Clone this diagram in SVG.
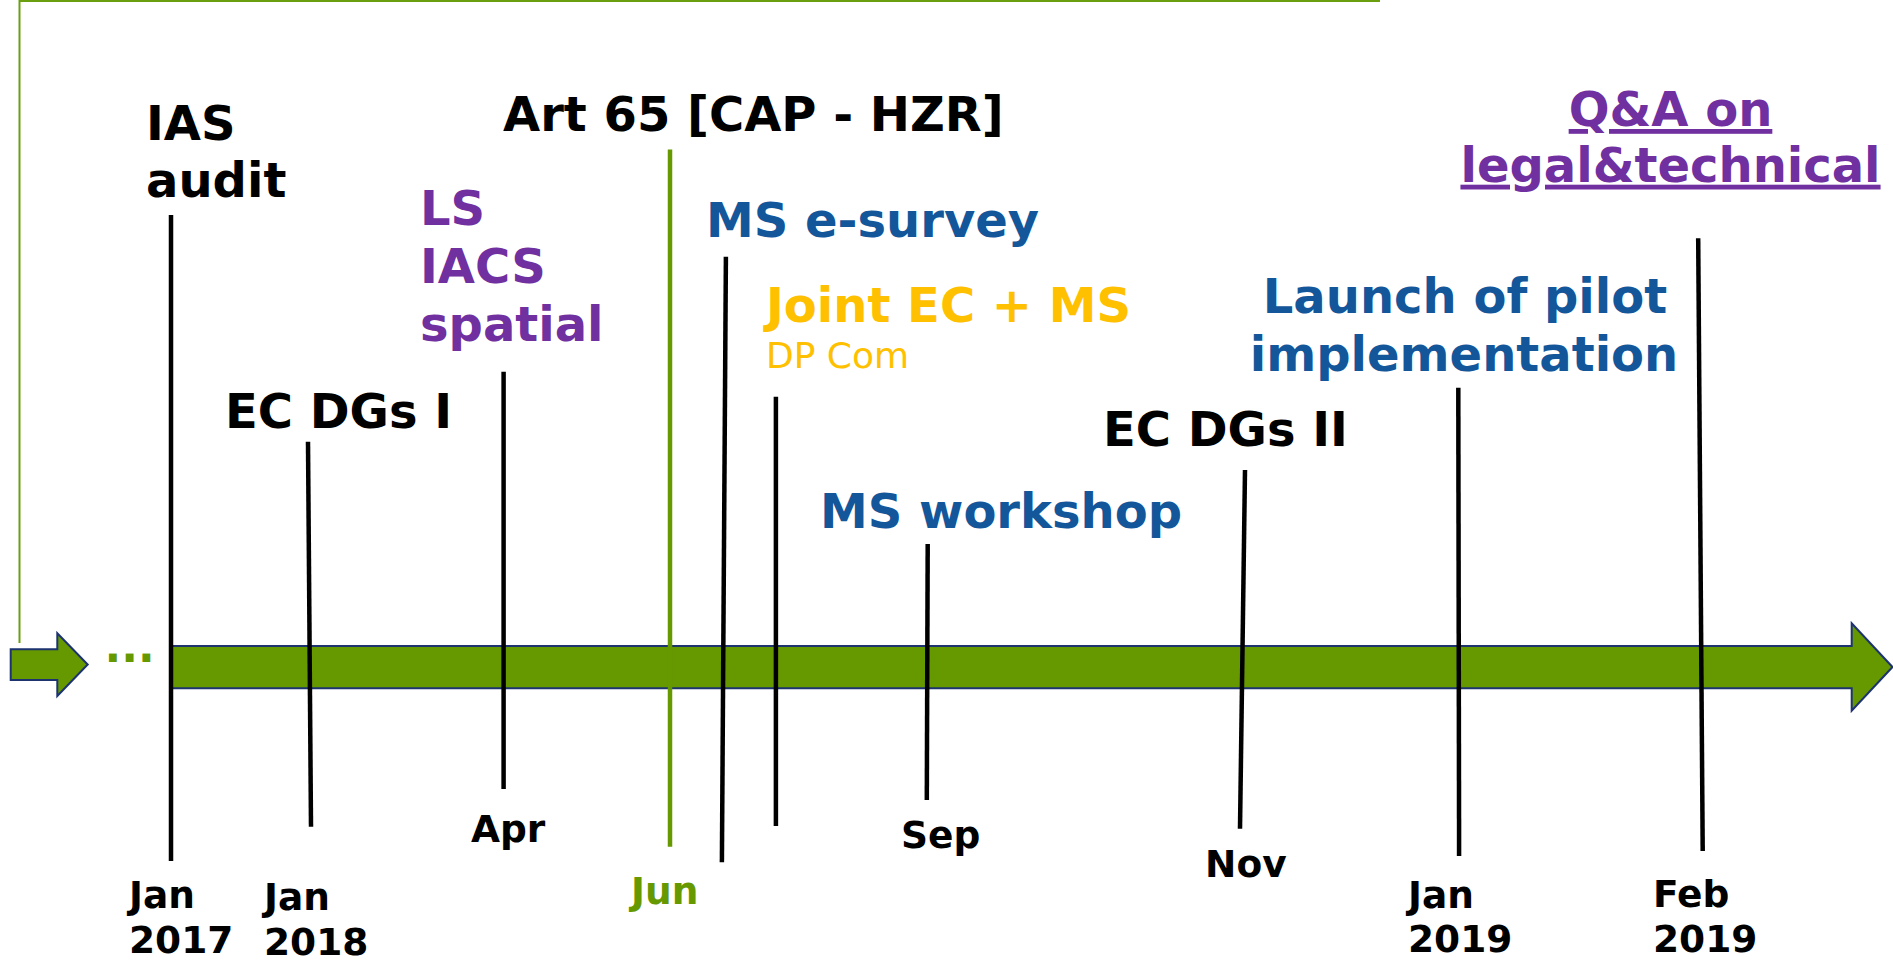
<svg xmlns="http://www.w3.org/2000/svg" width="1893" height="973" viewBox="0 0 1893 973">
<style>
text{font-family:"DejaVu Sans","Verdana","Liberation Sans",sans-serif;font-weight:bold}
.big{font-size:48px}
.date{font-size:37.5px;fill:#000}
.blk{fill:#000}
.blue{fill:#13579a}
.purple{fill:#7030a0}
.yellow{fill:#ffc000}
.green{fill:#669900}
.tick{stroke:#000;stroke-width:4.5;fill:none}
.gtick{stroke:#669900;stroke-width:4.5;fill:none}
.frame{stroke:#6aa010;stroke-width:2;fill:none}
.arrow{fill:#669900;stroke:#1c3370;stroke-width:2;stroke-linejoin:miter}
</style>
<rect width="1893" height="973" fill="#fff"/>
<g id="frame">
<polyline class="frame" points="19.5,643 19.5,1 1380,1"/>
</g>
<g id="start-arrow">
<polygon class="arrow" points="10.7,649.3 57.3,649.3 57.3,633.3 87.7,664.5 57.3,696 57.3,680 10.7,680"/>
<text x="104.5" y="661.7" class="green" style="font-size:44px">...</text>
</g>
<g id="timeline-axis">
<polygon class="arrow" points="172,646 1851.7,646 1851.7,623.3 1892.5,667 1851.7,710.7 1851.7,688.3 172,688.3"/>
</g>
<g id="connectors">
<line class="tick" x1="171" y1="215" x2="171" y2="861"/>
<line class="tick" x1="308" y1="441.7" x2="311" y2="826.7"/>
<line class="tick" x1="503.6" y1="371.7" x2="503.6" y2="789"/>
<line class="gtick" x1="670" y1="149.5" x2="670" y2="846.7"/>
<line class="tick" x1="725.9" y1="256.7" x2="721.9" y2="862.3"/>
<line class="tick" x1="775.9" y1="396.7" x2="775.9" y2="826"/>
<line class="tick" x1="927.7" y1="544" x2="926.8" y2="800"/>
<line class="tick" x1="1245" y1="470" x2="1240" y2="828.7"/>
<line class="tick" x1="1458.3" y1="387.7" x2="1459.1" y2="856"/>
<line class="tick" x1="1698.2" y1="238.3" x2="1702.7" y2="851"/>
</g>
<g id="ias-audit">
<text class="big blk" x="146" y="140">IAS</text>
<text class="big blk" x="146" y="196.7">audit</text>
<text class="date" x="129" y="908">Jan</text>
<text class="date" x="129" y="953">2017</text>
</g>
<g id="ec-dgs-1">
<text class="big blk" x="225" y="428.3">EC DGs I</text>
<text class="date" x="264" y="910">Jan</text>
<text class="date" x="264" y="955">2018</text>
</g>
<g id="ls-iacs-spatial">
<text class="big purple" x="420" y="225">LS</text>
<text class="big purple" x="420" y="282.7">IACS</text>
<text class="big purple" x="420" y="340.7">spatial</text>
<text class="date" x="471" y="841.7">Apr</text>
</g>
<g id="art65">
<text class="big blk" x="503" y="131">Art 65 [CAP - HZR]</text>
<text class="date green" x="631" y="904">Jun</text>
</g>
<g id="ms-e-survey">
<text class="big blue" x="706" y="237.3">MS e-survey</text>
</g>
<g id="joint-ec-ms">
<text class="big yellow" x="766" y="321.7">Joint EC + MS</text>
<text class="yellow" x="766" y="368.3" style="font-size:36px;font-weight:normal">DP Com</text>
</g>
<g id="ms-workshop">
<text class="big blue" x="820" y="528.3">MS workshop</text>
<text class="date" x="901" y="847.7">Sep</text>
</g>
<g id="ec-dgs-2">
<text class="big blk" x="1103" y="446">EC DGs II</text>
<text class="date" x="1205" y="876.7">Nov</text>
</g>
<g id="pilot-launch">
<text class="big blue" x="1465" y="313.3" text-anchor="middle">Launch of pilot</text>
<text class="big blue" x="1464" y="370.7" text-anchor="middle">implementation</text>
<text class="date" x="1408" y="907.7">Jan</text>
<text class="date" x="1408" y="952.3">2019</text>
</g>
<g id="qa-legal-technical">
<text class="big purple" x="1670.5" y="126" text-anchor="middle" text-decoration="underline">Q&amp;A on</text>
<text class="big purple" x="1670.5" y="181.7" text-anchor="middle" text-decoration="underline">legal&amp;technical</text>
<text class="date" x="1653" y="906.7">Feb</text>
<text class="date" x="1653" y="951.7">2019</text>
</g>
</svg>
